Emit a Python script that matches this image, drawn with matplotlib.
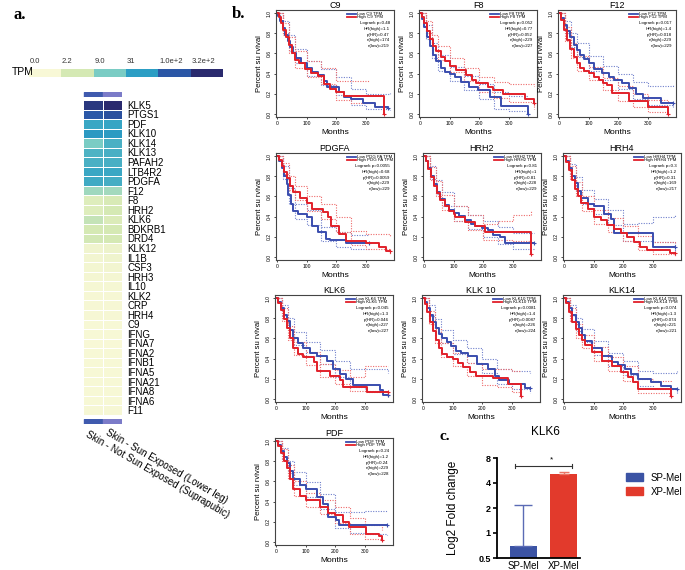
import numpy as np
import matplotlib
matplotlib.use('Agg')
import matplotlib.pyplot as plt
from matplotlib.colors import LinearSegmentedColormap, Normalize
from matplotlib.patches import Patch

plt.rcParams['font.family'] = ['Liberation Sans', 'DejaVu Sans']

W, H = 685, 570

# ---------------- panel a : GTEx skin expression (TPM) ----------------
genes = ['KLK5', 'PTGS1', 'PDF', 'KLK10', 'KLK14', 'KLK13', 'PAFAH2', 'LTB4R2',
         'PDGFA', 'F12', 'F8', 'HRH2', 'KLK6', 'BDKRB1', 'DRD4', 'KLK12', 'IL1B',
         'CSF3', 'HRH3', 'IL10', 'KLK2', 'CRP', 'HRH4', 'C9', 'IFNG', 'IFNA7',
         'IFNA2', 'IFNB1', 'IFNA5', 'IFNA21', 'IFNA8', 'IFNA6', 'F11']
tpm_not_sun = [223, 99, 25, 34, 9.0, 18, 19, 25, 23, 5.3, 1.4, 1.4, 3.0, 2.2, 2.3,
               0.32, 0.26, 0.20, 0.17, 0.12, 0.10, 0.07, 0.07, 0.05, 0.05, 0.02,
               0.05, 0.05, 0.05, 0.05, 0.05, 0.05, 0.07]
tpm_sun = [315, 119, 26, 33, 19, 20, 20, 25, 21, 5.0, 1.95, 2.2, 1.7, 2.2, 2.2,
           0.48, 0.35, 0.26, 0.17, 0.12, 0.10, 0.07, 0.10, 0.05, 0.05, 0.02,
           0.05, 0.05, 0.05, 0.05, 0.05, 0.05, 0.07]
tissues = ['Skin - Not Sun Exposed (Suprapubic)', 'Skin - Sun Exposed (Lower leg)']
tissue_colors = ['#3f5aae', '#7b7bc8']
tpm_ticks = [0.0, 2.2, 9.0, 31, 100, 320]
tpm_tick_labels = ['0.0', '2.2', '9.0', '31', '1.0e+2', '3.2e+2']

# ---------------- panel b : Kaplan-Meier curves (months, survival) ----------------
C9_low = [(0, 1), (5, .97), (12, .92), (20, .85), (28, .78), (36, .72), (45, .66), (55, .6),
          (65, .55), (80, .5), (100, .46), (120, .42), (140, .39), (160, .33), (170, .27),
          (210, .22), (225, .17), (250, .15), (290, .11), (330, .07), (375, .06)]
C9_high = [(0, 1), (6, .96), (14, .9), (22, .83), (30, .76), (40, .68), (50, .6), (60, .53),
           (75, .5), (95, .45), (115, .41), (140, .38), (160, .3), (180, .25), (200, .22),
           (225, .18), (360, 0.0)]
C9_low_ci = [(0, 1, 1), (20, .8, .92), (40, .62, .78), (60, .5, .64), (100, .38, .52),
             (150, .29, .45), (200, .19, .37), (250, .09, .25), (300, .05, .2), (380, .04, .21)]
C9_high_ci = [(0, 1, 1), (20, .78, .9), (40, .6, .76), (60, .46, .62), (100, .37, .52),
              (150, .3, .46), (200, .14, .33), (250, .11, .33), (310, .11, .33)]
C9_stats = ['Logrank p=0.48', 'HR(high)=1.1', 'p(HR)=0.47', 'n(high)=174', 'n(low)=219']

F8_low = [(0, 1), (8, .94), (15, .86), (25, .76), (35, .67), (45, .58), (55, .52), (70, .46),
          (85, .42), (100, .4), (120, .37), (140, .32), (165, .27), (195, .24), (235, .17),
          (275, .08), (365, 0.0)]
F8_high = [(0, 1), (8, .96), (15, .9), (25, .82), (35, .74), (45, .67), (55, .62), (70, .56),
           (85, .52), (100, .48), (122, .44), (156, .39), (175, .34), (190, .31), (229, .27),
           (246, .24), (280, .2), (353, .145), (384, .11)]
F8_low_ci = [(0, 1, 1), (20, .74, .88), (40, .55, .7), (60, .43, .58), (100, .33, .47),
             (150, .24, .38), (200, .15, .3), (250, .05, .22), (300, .03, .18), (366, 0.0, .18)]
F8_high_ci = [(0, 1, 1), (20, .8, .92), (40, .64, .78), (60, .53, .67), (100, .42, .55),
              (150, .33, .46), (200, .22, .37), (250, .16, .32), (300, .12, .3), (384, .05, .28)]
F8_stats = ['Logrank p=0.052', 'HR(high)=0.77', 'p(HR)=0.052', 'n(high)=229', 'n(low)=227']

F12_low = [(0, 1), (8, .95), (18, .88), (28, .82), (38, .76), (50, .68), (60, .63), (70, .58),
           (85, .54), (100, .5), (120, .45), (146, .41), (170, .37), (185, .34), (214, .31),
           (237, .26), (260, .2), (283, .16), (346, .11), (386, .11)]
F12_high = [(0, 1), (8, .93), (18, .83), (28, .73), (38, .64), (50, .56), (60, .5), (70, .46),
            (85, .43), (100, .41), (120, .37), (134, .34), (150, .31), (163, .29), (178, .21),
            (237, .13), (300, .066), (368, 0.0)]
F12_low_ci = [(0, 1, 1), (20, .8, .92), (40, .66, .8), (60, .56, .7), (100, .43, .57),
              (150, .34, .48), (200, .25, .4), (250, .15, .32), (300, .09, .28), (386, .07, .29)]
F12_high_ci = [(0, 1, 1), (20, .72, .86), (40, .55, .7), (60, .43, .57), (100, .34, .47),
               (150, .24, .36), (200, .13, .28), (250, .07, .2), (300, .02, .14), (368, 0.0, .12)]
F12_stats = ['Logrank p=0.017', 'HR(high)=1.4', 'p(HR)=0.018', 'n(high)=229', 'n(low)=229']

PDGFA_low = [(0, 1), (8, .95), (16, .88), (25, .8), (33, .72), (39, .61), (48, .52), (56, .46),
             (72, .43), (100, .4), (117, .31), (139, .25), (167, .18), (178, .165),
             (233, .14), (311, .14)]
PDGFA_high = [(0, 1), (8, .96), (16, .9), (25, .84), (33, .78), (45, .7), (56, .64), (78, .58),
              (100, .53), (117, .48), (156, .45), (172, .4), (183, .31), (211, .23),
              (233, .155), (300, .14), (344, .1), (367, .056), (380, .056)]
PDGFA_low_ci = [(0, 1, 1), (20, .77, .9), (40, .52, .68), (60, .38, .52), (100, .32, .47),
                (150, .16, .3), (200, .1, .25), (250, .08, .22), (311, .07, .22)]
PDGFA_high_ci = [(0, 1, 1), (20, .82, .93), (40, .66, .8), (60, .56, .7), (100, .46, .6),
                 (150, .38, .52), (200, .25, .4), (250, .12, .26), (300, .08, .23), (380, .02, .2)]
PDGFA_stats = ['Logrank p=0.0055', 'HR(high)=0.68', 'p(HR)=0.0059', 'n(high)=229', 'n(low)=229']

HRH2_low = [(0, 1), (8, .95), (15, .88), (25, .8), (35, .72), (45, .64), (55, .57), (70, .51),
            (85, .47), (100, .44), (120, .41), (139, .37), (160, .33), (172, .31), (195, .29),
            (217, .27), (233, .22), (256, .2), (272, .14), (372, .14)]
HRH2_high = [(0, 1), (8, .95), (15, .87), (25, .79), (35, .7), (45, .63), (55, .56), (70, .5),
             (85, .46), (100, .43), (106, .4), (139, .35), (172, .31), (206, .25), (345, .25),
             (362, .03)]
HRH2_low_ci = [(0, 1, 1), (20, .77, .9), (40, .62, .76), (60, .5, .64), (100, .36, .5),
               (150, .28, .42), (200, .2, .36), (250, .13, .3), (300, .08, .24), (372, .07, .24)]
HRH2_high_ci = [(0, 1, 1), (20, .76, .89), (40, .6, .75), (60, .47, .61), (100, .36, .5),
                (150, .27, .42), (200, .17, .33), (250, .17, .36), (300, .16, .42), (362, .14, .46)]
HRH2_stats = ['Logrank p=0.81', 'HR(high)=1', 'p(HR)=0.81', 'n(high)=228', 'n(low)=229']

HRH4_low = [(0, 1), (8, .95), (16, .88), (26, .8), (36, .73), (46, .65), (58, .58), (80, .52),
            (102, .5), (136, .43), (158, .38), (169, .24), (302, .1), (376, .1)]
HRH4_high = [(0, 1), (8, .94), (16, .86), (26, .76), (36, .67), (46, .6), (58, .53), (80, .48),
             (102, .4), (124, .37), (147, .32), (169, .28), (191, .24), (213, .2), (236, .15),
             (258, .1), (280, .073), (358, .04), (376, .04)]
HRH4_low_ci = [(0, 1, 1), (20, .8, .92), (40, .65, .79), (60, .52, .66), (100, .43, .57),
               (150, .32, .47), (200, .16, .33), (250, .16, .34), (300, .15, .4), (376, .05, .43)]
HRH4_high_ci = [(0, 1, 1), (20, .77, .9), (40, .6, .74), (60, .46, .6), (100, .33, .47),
                (150, .25, .39), (200, .16, .31), (250, .07, .21), (300, .03, .15), (376, .01, .14)]
HRH4_stats = ['Logrank p=0.3', 'HR(high)=1.2', 'p(HR)=0.31', 'n(high)=169', 'n(low)=217']

KLK6_low = [(0, 1), (8, .96), (16, .9), (26, .83), (37, .77), (48, .68), (59, .6), (75, .55),
            (93, .5), (115, .46), (138, .43), (171, .38), (194, .3), (216, .25), (238, .2),
            (261, .14), (350, .093), (362, .04), (378, .04)]
KLK6_high = [(0, 1), (8, .95), (16, .88), (26, .79), (37, .7), (48, .6), (59, .5), (75, .45),
             (93, .42), (127, .37), (138, .28), (183, .23), (216, .19), (227, .12), (306, .067),
             (378, .067)]
KLK6_low_ci = [(0, 1, 1), (20, .82, .93), (40, .68, .8), (60, .53, .66), (100, .43, .56),
               (150, .35, .49), (200, .22, .38), (250, .12, .3), (300, .08, .3), (378, .01, .26)]
KLK6_high_ci = [(0, 1, 1), (20, .77, .9), (40, .58, .72), (60, .44, .56), (100, .34, .47),
                (150, .22, .35), (200, .15, .29), (250, .08, .22), (300, .07, .33), (378, .01, .33)]
KLK6_stats = ['Logrank p=0.045', 'HR(high)=1.3', 'p(HR)=0.046', 'n(high)=227', 'n(low)=227']

KLK10_low = [(0, 1), (8, .96), (15, .9), (25, .83), (35, .76), (45, .7), (55, .64), (65, .6),
             (80, .56), (95, .52), (113, .48), (130, .46), (151, .43), (181, .35), (220, .3),
             (243, .23), (258, .19), (290, .15), (344, .11), (360, .11)]
KLK10_high = [(0, 1), (8, .94), (15, .86), (25, .76), (35, .67), (45, .58), (55, .5), (65, .45),
              (80, .42), (100, .4), (120, .36), (136, .32), (160, .27), (180, .23), (238, .21),
              (287, .15), (331, .03)]
KLK10_low_ci = [(0, 1, 1), (20, .82, .93), (40, .66, .79), (60, .55, .68), (100, .45, .58),
                (150, .36, .5), (200, .26, .4), (250, .15, .3), (300, .1, .28), (360, .06, .26)]
KLK10_high_ci = [(0, 1, 1), (20, .74, .87), (40, .55, .69), (60, .42, .55), (100, .33, .46),
                 (150, .23, .36), (200, .14, .3), (250, .12, .3), (300, .07, .28), (331, .05, .28)]
KLK10_stats = ['Logrank p=0.0081', 'HR(high)=1.4', 'p(HR)=0.0087', 'n(high)=226', 'n(low)=224']

KLK14_low = [(0, 1), (8, .96), (18, .9), (28, .83), (40, .76), (50, .7), (60, .63), (72, .57),
             (94, .5), (128, .43), (161, .37), (183, .34), (206, .3), (228, .25), (250, .2),
             (294, .17), (328, .13), (361, .1), (383, .1)]
KLK14_high = [(0, 1), (8, .95), (18, .86), (28, .76), (40, .69), (50, .63), (60, .58), (72, .53),
              (94, .47), (128, .38), (161, .33), (194, .27), (217, .22), (233, .17), (250, .1),
              (361, .03)]
KLK14_low_ci = [(0, 1, 1), (20, .82, .93), (40, .67, .8), (60, .56, .69), (100, .44, .57),
                (150, .33, .46), (200, .24, .38), (250, .13, .28), (300, .1, .26), (383, .05, .28)]
KLK14_high_ci = [(0, 1, 1), (20, .77, .9), (40, .6, .74), (60, .5, .63), (100, .38, .51),
                 (150, .28, .42), (200, .18, .33), (250, .06, .2), (300, .06, .18), (361, .02, .17)]
KLK14_stats = ['Logrank p=0.074', 'HR(high)=1.3', 'p(HR)=0.074', 'n(high)=221', 'n(low)=221']

PDF_low = [(0, 1), (8, .96), (16, .9), (26, .84), (37, .78), (48, .7), (59, .62), (80, .56),
           (103, .52), (137, .45), (159, .38), (176, .25), (203, .22), (214, .17), (375, .17)]
PDF_high = [(0, 1), (8, .95), (16, .88), (26, .8), (37, .73), (48, .62), (59, .52), (80, .46),
            (103, .42), (148, .35), (176, .29), (198, .27), (226, .2), (248, .15), (303, .083),
            (348, .057), (359, .017)]
PDF_low_ci = [(0, 1, 1), (20, .82, .93), (40, .68, .8), (60, .56, .69), (100, .45, .59),
              (150, .33, .48), (200, .14, .3), (250, .09, .3), (300, .08, .31), (375, .07, .31)]
PDF_high_ci = [(0, 1, 1), (20, .8, .92), (40, .62, .76), (60, .46, .6), (100, .35, .49),
               (150, .28, .42), (200, .19, .35), (250, .08, .24), (300, .03, .17), (359, 0.0, .12)]
PDF_stats = ['Logrank p=0.24', 'HR(high)=1.2', 'p(HR)=0.24', 'n(high)=229', 'n(low)=228']

# ---------------- panel c : qPCR KLK6 ----------------
qpcr_groups = ['SP-Mel', 'XP-Mel']
qpcr_fold = [0.70, 5.1]
qpcr_err_top = [2.2, 5.4]

BLUE, RED = '#3a4dae', '#e1202a'
BLUE_CI, RED_CI = '#7080cc', '#ee6a6a'

fig = plt.figure(figsize=(W / 100, H / 100), dpi=100)


def px_axes(left, top, width, height):
    return fig.add_axes([left / W, 1 - (top + height) / H, width / W, height / H])


# ---- panel a ----
tpm_cmap = LinearSegmentedColormap.from_list(
    'tpm', [(0, '#f8f8d6'), (0.5 / 3, '#d6e9b4'), (1 / 3, '#7accc4'), (1.5 / 3, '#2c9fc4'),
            (2 / 3, '#2b58a7'), (2.5 / 3, '#2a2a6e'), (1, '#1e1e55')])
tpm_norm = Normalize(0, 3)

fig.text(13 / W, 1 - 15 / H, 'a.', family='Liberation Serif', weight='bold', fontsize=12,
         va='center')
fig.text(12 / W, 1 - 72 / H, 'TPM', fontsize=7.5, va='center')
cb = px_axes(29, 69, 194, 8)
tick_vals = np.log10(np.array(tpm_ticks) + 1)
cb.pcolormesh(np.arange(len(tpm_ticks) + 1), [0, 1], tick_vals[None, :],
              cmap=tpm_cmap, norm=tpm_norm)
for i, lab in enumerate(tpm_tick_labels):
    cb.text(i + 0.02, 1.5, lab, fontsize=5.5, ha='left', va='bottom', color='#333333')
cb.set_axis_off()

hm = px_axes(83, 100, 39, 315)
vals = np.log10(np.column_stack([tpm_not_sun, tpm_sun]) + 1)
hm.pcolormesh(vals, cmap=tpm_cmap, norm=tpm_norm, edgecolors='white', linewidth=0.6)
hm.set_ylim(len(genes), 0)
hm.set_xlim(0, 2)
hm.yaxis.tick_right()
hm.set_yticks(np.arange(len(genes)) + 0.5)
hm.set_yticklabels(genes, fontsize=7)
hm.set_xticks([])
hm.tick_params(axis='y', length=0, pad=4)
for s in hm.spines.values():
    s.set_visible(False)

for top in (92, 419):
    ab = px_axes(83, top, 39, 5)
    for i, c in enumerate(tissue_colors):
        ab.axvspan(i + 0.03, i + 0.97, color=c)
    ab.set_xlim(0, 2)
    ab.set_axis_off()

for i, lab in enumerate(tissues):
    fig.text((89 + 20 * i) / W, 1 - (429 - 2 * i) / H, lab, fontsize=7.1, rotation=-30,
             rotation_mode='anchor', ha='left', va='top')

# ---- panel b ----
fig.text(232 / W, 1 - 14 / H, 'b.', family='Liberation Serif', weight='bold', fontsize=12,
         va='center')

panels = [
    ((276, 10), 'C9', 'C9', C9_low, C9_high, C9_low_ci, C9_high_ci, C9_stats),
    ((419, 10), 'F8', 'F8', F8_low, F8_high, F8_low_ci, F8_high_ci, F8_stats),
    ((558, 10), 'F12', 'F12', F12_low, F12_high, F12_low_ci, F12_high_ci, F12_stats),
    ((276, 153), 'PDGFA', 'PDG FA', PDGFA_low, PDGFA_high, PDGFA_low_ci, PDGFA_high_ci,
     PDGFA_stats),
    ((423, 153), 'HRH2', 'HRH2', HRH2_low, HRH2_high, HRH2_low_ci, HRH2_high_ci, HRH2_stats),
    ((563, 153), 'HRH4', 'HRH4', HRH4_low, HRH4_high, HRH4_low_ci, HRH4_high_ci, HRH4_stats),
    ((275, 295), 'KLK6', 'KLK6', KLK6_low, KLK6_high, KLK6_low_ci, KLK6_high_ci, KLK6_stats),
    ((422, 295), 'KLK 10', 'KLK10', KLK10_low, KLK10_high, KLK10_low_ci, KLK10_high_ci,
     KLK10_stats),
    ((563, 295), 'KLK14', 'KLK14', KLK14_low, KLK14_high, KLK14_low_ci, KLK14_high_ci,
     KLK14_stats),
    ((275, 438), 'PDF', 'PDF', PDF_low, PDF_high, PDF_low_ci, PDF_high_ci, PDF_stats),
]

for (left, top), title, glab, low, high, low_ci, high_ci, stats in panels:
    ax = px_axes(left, top, 118, 107)
    for ci, col in ((low_ci, BLUE_CI), (high_ci, RED_CI)):
        t, lo, hi = zip(*ci)
        ax.step(t, lo, where='post', color=col, ls=(0, (1, 1.3)), lw=0.8)
        ax.step(t, hi, where='post', color=col, ls=(0, (1, 1.3)), lw=0.8)
    for curve, col in ((low, BLUE), (high, RED)):
        t, s = zip(*curve)
        ax.step(t, s, where='post', color=col, lw=1.4)
        ax.plot(t[-1], s[-1], marker='+', color=col, ms=3.5, mew=0.8)
    ax.set_xlim(-3, 395)
    ax.set_ylim(-0.03, 1.03)
    ax.set_xticks([0, 100, 200, 300])
    yt = np.arange(0, 1.01, 0.2)
    ax.set_yticks(yt)
    ax.set_yticklabels([f'{v:.1f}' for v in yt], rotation=90, va='center')
    ax.tick_params(labelsize=3.6, length=1.5, width=0.5, pad=1.5)
    for sp in ax.spines.values():
        sp.set_linewidth(0.8)
        sp.set_color('#444444')
    ax.set_title(title, fontsize=6.5, pad=1.5)
    ax.set_xlabel('Months', fontsize=6, labelpad=2)
    ax.set_ylabel('Percent su rvival', fontsize=5.5, labelpad=3)
    for k, (col, lab) in enumerate(((BLUE, f'Low {glab} TPM'), (RED, f'High {glab} TPM'))):
        y = 0.965 - k * 0.035
        ax.plot([0.6, 0.68], [y, y], color=col, lw=1.3, transform=ax.transAxes)
        ax.text(0.69, y, lab, fontsize=3.2, va='center', transform=ax.transAxes)
    for k, line in enumerate(stats):
        ax.text(0.965, 0.875 - k * 0.053, line, fontsize=3.2, ha='right', va='center',
                transform=ax.transAxes)

# ---- panel c ----
fig.text(440 / W, 1 - 436 / H, 'c.', family='Liberation Serif', weight='bold', fontsize=11,
         va='center')
fig.text(545 / W, 1 - 432 / H, 'KLK6', fontsize=8.5, ha='center', va='center')

axc = px_axes(497, 458, 83, 100)
x = np.arange(len(qpcr_groups))
bar_cols = ['#3b53a4', '#e23a2c']
err_cols = ['#5b6bb5', '#ea7565']
axc.set_yscale('log', base=2)
axc.bar(x, np.array(qpcr_fold) - 0.5, bottom=0.5, width=0.675, color=bar_cols)
for i in range(len(x)):
    axc.errorbar(x[i], qpcr_fold[i], yerr=[[0], [qpcr_err_top[i] - qpcr_fold[i]]],
                 fmt='none', ecolor=err_cols[i], elinewidth=1, capsize=6.5 if i == 0 else 3.6,
                 capthick=1)
axc.plot([-0.2, 1.22], [6.4, 6.4], color='#333333', lw=0.8)
for xe in (-0.2, 1.22):
    axc.plot([xe, xe], [6.1, 6.7], color='#333333', lw=0.8)
axc.text(0.7, 6.8, '*', fontsize=6, ha='center', va='bottom')
axc.set_xlim(-0.66, 1.41)
axc.set_ylim(0.5, 8)
axc.set_yticks([0.5, 1, 2, 4, 8])
axc.set_yticklabels(['0.5', '1', '2', '4', '8'], fontsize=6.5, fontweight='bold')
axc.minorticks_off()
axc.set_xticks(x)
axc.set_xticklabels(qpcr_groups, fontsize=7)
axc.tick_params(axis='x', length=0, pad=2)
axc.tick_params(axis='y', length=3, width=1.2, pad=1.5)
for sp in ('top', 'right'):
    axc.spines[sp].set_visible(False)
for sp in ('left', 'bottom'):
    axc.spines[sp].set_linewidth(1.3)
axc.set_ylabel('Log2 Fold change', fontsize=8.5, labelpad=14)
axc.legend([Patch(color=c) for c in bar_cols], qpcr_groups, loc='upper left',
           bbox_to_anchor=(617 / W, 1 - 464 / H), bbox_transform=fig.transFigure,
           frameon=False, fontsize=7, handlelength=1.8, handleheight=0.9, labelspacing=0.4)

fig.savefig('out.png', dpi=100)
